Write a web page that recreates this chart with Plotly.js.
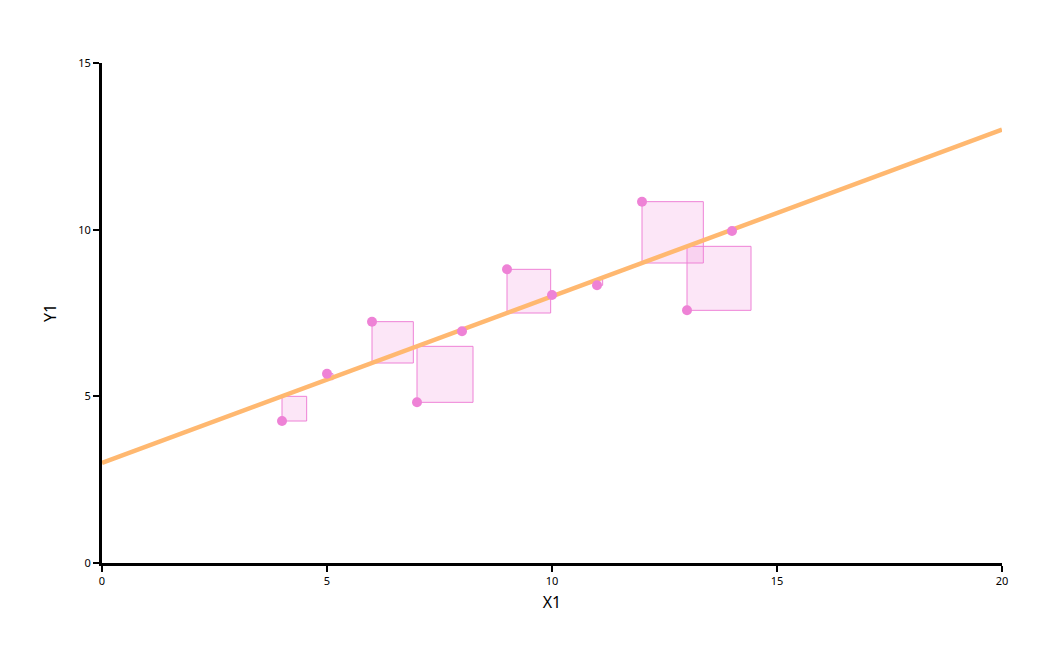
<!DOCTYPE html>
<html>
<head>
<meta charset="utf-8">
<script src="https://cdn.plot.ly/plotly-3.0.1.min.js"></script>
<style>html,body{margin:0;padding:0;background:#fff;}#chart{width:1049px;height:651px;}</style>
</head>
<body>
<div id="chart"></div>
<script>
var x1 = [10, 8, 13, 9, 11, 14, 6, 4, 12, 7, 5];
var y1 = [8.04, 6.95, 7.58, 8.81, 8.33, 9.96, 7.24, 4.26, 10.84, 4.82, 5.68];
var fitIntercept = 3.0;
var fitSlope = 0.5;
var lineX = [0, 20];
var xTicks = [0, 5, 10, 15, 20];
var yTicks = [0, 5, 10, 15];

var W = 1049, H = 651;
var margin = {l: 102, r: 47, t: 63, b: 88};
var xRange = [0, 20], yRange = [0, 15];
var plotW = W - margin.l - margin.r, plotH = H - margin.t - margin.b;
var pxPerX = plotW / (xRange[1] - xRange[0]);
var pxPerY = plotH / (yRange[1] - yRange[0]);

var lineY = lineX.map(function(x){ return fitIntercept + fitSlope * x; });

var shapes = x1.map(function(x, i){
  var yFit = fitIntercept + fitSlope * x;
  var r = Math.abs(y1[i] - yFit);
  var wx = r * pxPerY / pxPerX;
  return {
    type: 'rect', xref: 'x', yref: 'y', layer: 'below',
    x0: x, x1: x + wx, y0: y1[i], y1: yFit,
    fillcolor: 'rgba(238,130,214,0.2)',
    line: {color: '#EE82D6', width: 1}
  };
});

var traces = [
  {x: lineX, y: lineY, mode: 'lines', line: {color: '#FFB870', width: 4.5}, hoverinfo: 'skip', showlegend: false},
  {x: x1, y: y1, mode: 'markers', marker: {color: '#EE82D6', size: 10}, showlegend: false}
];

var FONT = '"Noto Sans", sans-serif';
var axisCommon = {
  showgrid: false, zeroline: false, showline: true, linecolor: '#000', linewidth: 3,
  ticks: 'outside', ticklen: 6, tickwidth: 2, tickcolor: '#000',
  tickfont: {family: FONT, size: 11, color: '#000'}
};

var layout = {
  width: W, height: H, margin: margin,
  paper_bgcolor: '#fff', plot_bgcolor: '#fff',
  showlegend: false,
  xaxis: Object.assign({}, axisCommon, {range: xRange, tickvals: xTicks,
    title: {text: 'X1', font: {family: FONT, size: 16, color: '#000'}, standoff: 10}}),
  yaxis: Object.assign({}, axisCommon, {range: yRange, tickvals: yTicks,
    title: {text: 'Y1', font: {family: FONT, size: 16, color: '#000'}, standoff: 18}}),
  shapes: shapes
};

Plotly.newPlot('chart', traces, layout, {displayModeBar: false});
</script>
</body>
</html>
